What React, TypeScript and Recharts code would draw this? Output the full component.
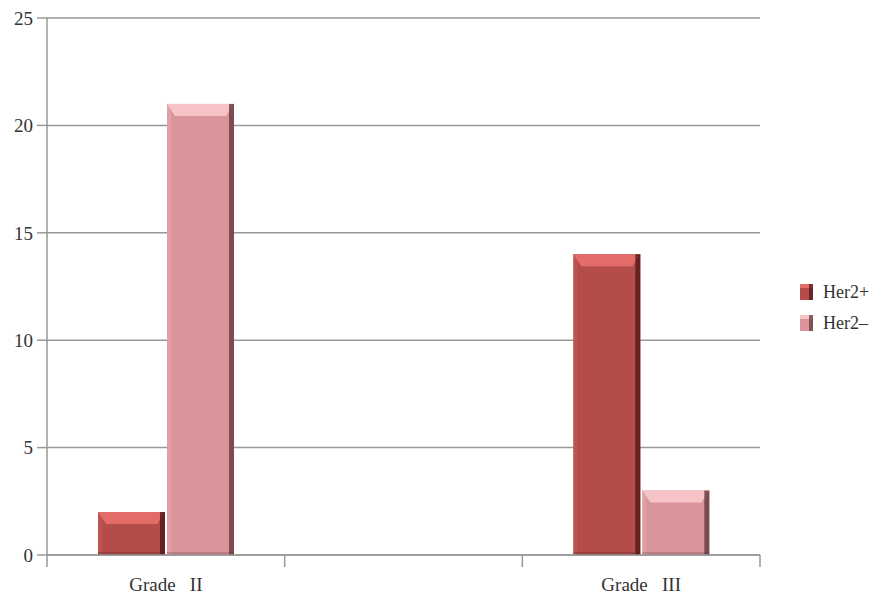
import { BarChart, Bar, XAxis, YAxis, CartesianGrid } from 'recharts';

const categories = ['Grade\u00A0\u00A0\u00A0II', '', 'Grade\u00A0\u00A0\u00A0III'];
const her2Pos = [2, null, 14];
const her2Neg = [21, null, 3];
const yTicks = [0, 5, 10, 15, 20, 25];
const boundaryTicks = [0, 1, 2, 3];

// slot = middle of each category band, only used by the boundary-tick axis
const data = categories.map((name, i) => ({ name, slot: i + 0.5, pos: her2Pos[i], neg: her2Neg[i] }));

const palette = {
  pos: { main: '#b44c4a', top: '#e36b68', dark: '#4a1514', light: '#c45a57' },
  neg: { main: '#d9959a', top: '#f6c3c6', dark: '#5b3336', light: '#e3a6aa' },
};

function BevelBar(props: any) {
  const { x, y, width, height, tone } = props;
  if (!height || height <= 0) return null;
  const c = palette[tone as 'pos' | 'neg'];
  const b = Math.min(12, height / 2);
  return (
    <g>
      <rect x={x} y={y} width={width} height={height} fill={c.main} />
      <rect x={x} y={y} width={4} height={height} fill={c.light} opacity={0.6} />
      <polygon
        points={`${x},${y} ${x + width},${y} ${x + width - 8},${y + b} ${x + 8},${y + b}`}
        fill={c.top}
      />
      <rect x={x + width - 5} y={y} width={5} height={height} fill={c.dark} opacity={0.75} />
      <rect x={x} y={y + height - 3} width={width} height={3} fill={c.dark} opacity={0.25} />
    </g>
  );
}

function LegendIcon({ tone }: { tone: 'pos' | 'neg' }) {
  const c = palette[tone];
  return (
    <svg width={13} height={16} style={{ display: 'block' }}>
      <rect x={0} y={0} width={13} height={16} fill={c.main} />
      <rect x={0} y={0} width={13} height={4} fill={c.top} />
      <rect x={9} y={0} width={4} height={16} fill={c.dark} opacity={0.7} />
    </svg>
  );
}

const NoLabel = () => <g />;

export default function App() {
  const font = '"Liberation Serif", "DejaVu Serif", serif';
  return (
    <div style={{ position: 'absolute', left: 0, top: 0, width: 881, height: 596, background: '#fff', fontFamily: font }}>
      <BarChart
        width={881}
        height={596}
        data={data}
        margin={{ top: 18, right: 121, bottom: 11, left: 0 }}
        barSize={67}
        barGap={2}
      >
        <CartesianGrid xAxisId="cat" vertical={false} stroke="#999" strokeWidth={1.5} />
        <XAxis
          xAxisId="a"
          dataKey="slot"
          type="number"
          domain={[0, 3]}
          allowDataOverflow
          ticks={boundaryTicks}
          interval={0}
          axisLine={{ stroke: '#999', strokeWidth: 1.5 }}
          tickLine={{ stroke: '#999', strokeWidth: 1.5 }}
          tickSize={12}
          tick={NoLabel}
          height={1}
        />
        <XAxis
          dataKey="name"
          xAxisId="cat"
          height={29}
          axisLine={false}
          tickLine={false}
          tick={{ fill: '#333', fontSize: 19, fontFamily: font }}
          tickMargin={16}
          interval={0}
        />
        <YAxis
          width={47}
          domain={[0, 25]}
          ticks={yTicks}
          axisLine={{ stroke: '#999', strokeWidth: 1.5 }}
          tickLine={{ stroke: '#999', strokeWidth: 1.5 }}
          tickSize={10}
          tickMargin={4}
          tick={{ fill: '#333', fontSize: 19, fontFamily: font }}
        />
        <Bar xAxisId="cat" dataKey="pos" name="Her2+" isAnimationActive={false} shape={(p: any) => <BevelBar {...p} tone="pos" />} />
        <Bar xAxisId="cat" dataKey="neg" name="Her2–" isAnimationActive={false} shape={(p: any) => <BevelBar {...p} tone="neg" />} />
      </BarChart>
      <div style={{ position: 'absolute', left: 800, top: 283, fontSize: 18, color: '#333' }}>
        <div style={{ display: 'flex', alignItems: 'center', gap: 10, height: 18 }}>
          <LegendIcon tone="pos" />
          <span>Her2+</span>
        </div>
        <div style={{ display: 'flex', alignItems: 'center', gap: 10, height: 18, marginTop: 13 }}>
          <LegendIcon tone="neg" />
          <span>Her2–</span>
        </div>
      </div>
    </div>
  );
}
